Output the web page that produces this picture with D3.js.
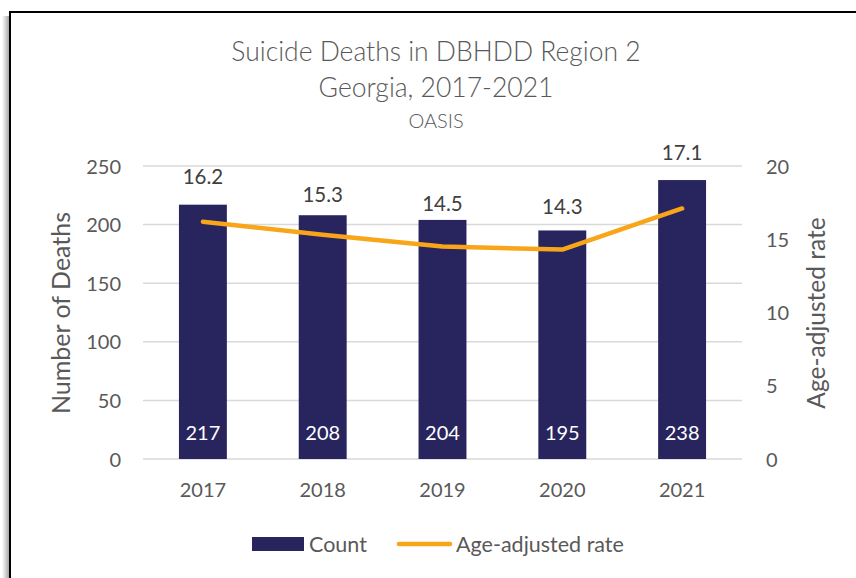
<!DOCTYPE html>
<html><head><meta charset="utf-8">
<script src="https://cdn.jsdelivr.net/npm/d3@7"></script>
<style>body{margin:0;background:#fff}svg{display:block}</style>
</head><body>
<svg id="c" width="856" height="578"></svg>
<script>
const years = ["2017","2018","2019","2020","2021"];
const counts = [217, 208, 204, 195, 238];
const rates = [16.2, 15.3, 14.5, 14.3, 17.1];
const leftTicks = [0, 50, 100, 150, 200, 250];
const rightTicks = [0, 5, 10, 15, 20];
const rateLabelLift = [45, 40, 43, 43, 56];

const W = 856, H = 578;
const svg = d3.select("#c");
const font = "Lato, 'Open Sans', sans-serif";
const gray = "#595959";

// shadow + border
const defs = svg.append("defs");
const grad = defs.append("linearGradient").attr("id","sh").attr("x1","0").attr("x2","1");
grad.append("stop").attr("offset","0").attr("stop-color","#fff");
grad.append("stop").attr("offset","1").attr("stop-color","#9a9a9a");
svg.append("rect").attr("x",2).attr("y",16).attr("width",8).attr("height",H).attr("fill","url(#sh)");
svg.append("rect").attr("x",10).attr("y",12).attr("width",W+20).attr("height",H+20)
  .attr("fill","#fff").attr("stroke","#000").attr("stroke-width",2);

const plot = {l:143, r:742, t:166, b:459};
const x = d3.scaleBand().domain(years).range([plot.l, plot.r]).padding(0);
const yL = d3.scaleLinear().domain([0,250]).range([plot.b, plot.t]);
const yR = d3.scaleLinear().domain([0,20]).range([plot.b, plot.t]);
const barW = x.bandwidth()*0.4;

// gridlines
svg.append("g").selectAll("line").data(leftTicks).join("line")
  .attr("x1",plot.l).attr("x2",plot.r)
  .attr("y1",d=>yL(d)).attr("y2",d=>yL(d))
  .attr("stroke","#d9d9d9").attr("stroke-width",1.5);

// left axis
const axL = d3.axisLeft(yL).tickValues(leftTicks).tickSize(0).tickPadding(0);
const gL = svg.append("g").attr("transform",`translate(${121},0)`).call(axL);
gL.select(".domain").remove();
gL.selectAll("text").attr("font-family",font).attr("font-size",20).attr("fill",gray).attr("dy","0.35em");

const axR = d3.axisRight(yR).tickValues(rightTicks).tickSize(0).tickPadding(0);
const gR = svg.append("g").attr("transform",`translate(${766},0)`).call(axR);
gR.select(".domain").remove();
gR.selectAll("text").attr("font-family",font).attr("font-size",20).attr("fill",gray).attr("dy","0.35em");

const axB = d3.axisBottom(x).tickSize(0).tickPadding(0);
const gB = svg.append("g").attr("transform",`translate(0,${490})`).call(axB);
gB.select(".domain").remove();
gB.selectAll("text").attr("font-family",font).attr("font-size",20).attr("fill",gray).attr("dy","0.35em");

// bars
svg.append("g").selectAll("rect").data(counts).join("rect")
  .attr("x",(d,i)=>x(years[i])+x.bandwidth()/2-barW/2)
  .attr("width",barW)
  .attr("y",d=>yL(d)).attr("height",d=>plot.b-yL(d))
  .attr("fill","#28245e");
svg.append("g").selectAll("text").data(counts).join("text")
  .attr("x",(d,i)=>x(years[i])+x.bandwidth()/2)
  .attr("y",433).attr("dy","0.35em").attr("text-anchor","middle")
  .attr("font-family",font).attr("font-size",20).attr("fill","#fff").text(d=>d);

// line
const line = d3.line().x((d,i)=>x(years[i])+x.bandwidth()/2).y(d=>yR(d));
svg.append("path").datum(rates).attr("d",line).attr("fill","none")
  .attr("stroke","#f9a51a").attr("stroke-width",4.5).attr("stroke-linecap","round").attr("stroke-linejoin","round");
svg.append("g").selectAll("text").data(rates).join("text")
  .attr("x",(d,i)=>x(years[i])+x.bandwidth()/2)
  .attr("y",(d,i)=>yR(d)-rateLabelLift[i]).attr("dy","0.35em").attr("text-anchor","middle")
  .attr("font-family",font).attr("font-size",20.5).attr("fill","#404040").text(d=>d.toFixed(1));

// titles
const tx = 436;
svg.append("text").attr("x",tx).attr("y",52).attr("dy","0.35em").attr("text-anchor","middle")
  .attr("font-family",font).attr("font-weight",300).attr("font-size",26.5).attr("fill",gray).text("Suicide Deaths in DBHDD Region 2");
svg.append("text").attr("x",tx).attr("y",88).attr("dy","0.35em").attr("text-anchor","middle")
  .attr("font-family",font).attr("font-weight",300).attr("font-size",26.5).attr("fill",gray).text("Georgia, 2017-2021");
svg.append("text").attr("x",tx).attr("y",121).attr("dy","0.35em").attr("text-anchor","middle")
  .attr("font-family",font).attr("font-weight",300).attr("font-size",20).attr("fill",gray).text("OASIS");

svg.append("text").attr("transform","translate(61,313) rotate(-90)").attr("dy","0.35em").attr("text-anchor","middle")
  .attr("font-family",font).attr("font-size",25).attr("fill",gray).text("Number of Deaths");
svg.append("text").attr("transform","translate(816,313) rotate(-90)").attr("dy","0.35em").attr("text-anchor","middle")
  .attr("font-family",font).attr("font-size",24.5).attr("fill",gray).text("Age-adjusted rate");

// legend
svg.append("rect").attr("x",252).attr("y",537).attr("width",52).attr("height",14).attr("fill","#28245e");
svg.append("text").attr("x",309).attr("y",544).attr("dy","0.35em")
  .attr("font-family",font).attr("font-size",21.5).attr("fill",gray).text("Count");
svg.append("line").attr("x1",399).attr("x2",450).attr("y1",544).attr("y2",544)
  .attr("stroke","#f9a51a").attr("stroke-width",4.5).attr("stroke-linecap","round");
svg.append("text").attr("x",456).attr("y",544).attr("dy","0.35em")
  .attr("font-family",font).attr("font-size",21.5).attr("fill",gray).text("Age-adjusted rate");
</script>
</body></html>
